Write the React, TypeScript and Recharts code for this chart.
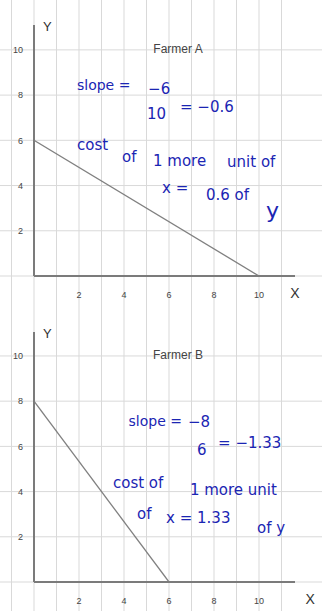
import { CartesianGrid, Line, LineChart, ReferenceDot, XAxis, YAxis } from "recharts";

// tick labels
const xTicks = [2, 4, 6, 8, 10];
const yTicks = [2, 4, 6, 8, 10];
// graph paper lines (one per unit)
const paperLines = [-2, -1, 0, 1, 2, 3, 4, 5, 6, 7, 8, 9, 10, 11, 12, 13];

// production possibility lines
const farmerAX = [0, 10];
const farmerAY = [6, 0];
const farmerBX = [0, 6];
const farmerBY = [8, 0];

const titles = ["Farmer A", "Farmer B"];

// handwritten notes
const notesA = ["slope =", "−6", "10", "= −0.6", "cost", "of", "1 more", "unit of", "x =", "0.6 of", "y"];
const notesB = ["slope =", "−8", "6", "= −1.33", "cost of", "1 more unit", "of", "x = 1.33", "of y"];

// where the notes sit, in data units
const notesAAt = [
  [1.91, 8.23], [5.07, 8.05], [5.02, 6.95], [6.49, 7.26], [1.91, 5.58], [3.91, 5.04],
  [5.29, 4.87], [8.58, 4.82], [5.69, 3.67], [7.64, 3.36], [10.31, 2.57],
];
const notesBAt = [
  [4.2, 6.9], [6.84, 6.86], [7.24, 5.62], [8.18, 5.93], [3.51, 4.16], [6.93, 3.85],
  [4.58, 2.79], [5.87, 2.61], [9.91, 2.17],
];

const INK = "#1b25b3";
const AXIS = "#7b7b7b";
const SANS = "'Liberation Sans', Arial, sans-serif";

type PanelProps = {
  xs: number[];
  ys: number[];
  title: string;
  notes: string[];
  notesAt: number[][];
  height: number;
  top: number;
  yMax: number;
  xLabelX: number;
};

const textAt = (text: string, opts: Record<string, unknown>) => (p: any) => (
  <text x={p.cx} y={p.cy} {...opts}>
    {text}
  </text>
);

function Panel({ xs, ys, title, notes, notesAt, height, top, yMax, xLabelX }: PanelProps) {
  const data = xs.map((x, i) => ({ x, y: ys[i] }));
  return (
    <LineChart
      width={322}
      height={height}
      data={data}
      margin={{ top, right: 27, bottom: 0, left: 0 }}
    >
      <CartesianGrid
        x={0}
        y={0}
        width={322}
        height={height}
        stroke="#d9d9d9"
        verticalValues={paperLines}
        horizontalValues={paperLines}
      />
      <XAxis
        type="number"
        dataKey="x"
        domain={[0, 11.6]}
        ticks={xTicks}
        allowDataOverflow
        height={29}
        tickLine={false}
        tickMargin={10}
        axisLine={{ stroke: AXIS, strokeWidth: 2 }}
        tick={{ fill: "#444", fontSize: 9, fontFamily: SANS }}
      />
      <YAxis
        type="number"
        domain={[0, yMax]}
        ticks={yTicks}
        allowDataOverflow
        width={34}
        tickLine={false}
        tickMargin={5}
        axisLine={{ stroke: AXIS, strokeWidth: 2 }}
        tick={{ fill: "#444", fontSize: 9, fontFamily: SANS }}
      />
      <Line
        type="linear"
        dataKey="y"
        stroke="#808080"
        strokeWidth={1.3}
        dot={false}
        isAnimationActive={false}
      />
      <ReferenceDot
        x={6.4}
        y={10.02}
        r={0}
        ifOverflow="visible"
        shape={textAt(title, { textAnchor: "middle", dominantBaseline: "middle", fontSize: 12, fill: "#444", fontFamily: SANS })}
      />
      <ReferenceDot
        x={0.4}
        y={yMax - 0.1}
        r={0}
        ifOverflow="visible"
        shape={textAt("Y", { fontSize: 13, fill: "#333", fontFamily: SANS, dominantBaseline: "middle" })}
      />
      <ReferenceDot
        x={xLabelX}
        y={-0.82}
        r={0}
        ifOverflow="visible"
        shape={textAt("X", { fontSize: 14, fill: "#333", fontFamily: SANS, textAnchor: "middle", dominantBaseline: "middle" })}
      />
      {notes.map((n, i) => (
        <ReferenceDot
          key={i}
          x={notesAt[i][0]}
          y={notesAt[i][1]}
          r={0}
          ifOverflow="visible"
          shape={textAt(n, {
            fontSize: n === "y" ? 22 : n === "slope =" ? 14 : 15,
            fill: INK,
            fontFamily: "'DejaVu Sans', sans-serif",
          })}
        />
      ))}
    </LineChart>
  );
}

export default function App() {
  return (
    <div style={{ position: "absolute", left: 0, top: 0, width: 322, height: 611, background: "#fff" }}>
      <Panel
        xs={farmerAX}
        ys={farmerAY}
        title={titles[0]}
        notes={notesA}
        notesAt={notesAAt}
        height={305}
        top={25}
        yMax={11.1}
        xLabelX={11.6}
      />
      <Panel
        xs={farmerBX}
        ys={farmerBY}
        title={titles[1]}
        notes={notesB}
        notesAt={notesBAt}
        height={306}
        top={27}
        yMax={11.06}
        xLabelX={12.27}
      />
    </div>
  );
}
